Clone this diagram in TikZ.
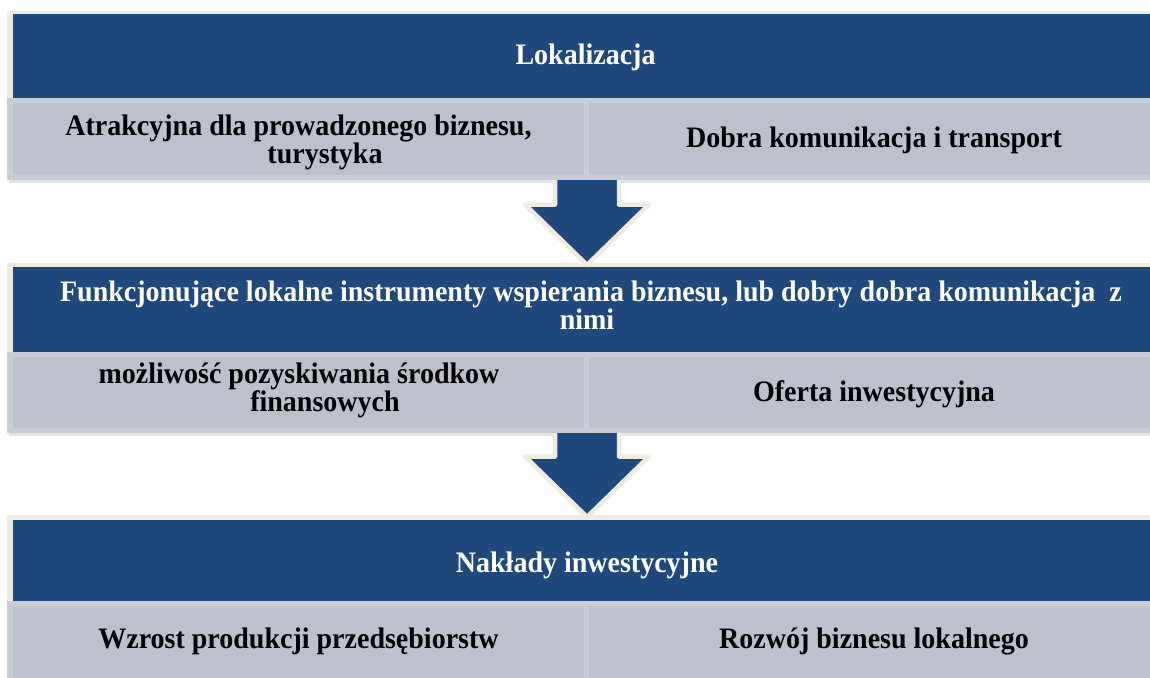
\documentclass[tikz,border=0pt]{standalone}
\usepackage{fontspec}
\setmainfont{Liberation Serif}
\definecolor{dblue}{HTML}{1F497D}
\definecolor{cream}{HTML}{EEECE1}
\definecolor{grayin}{RGB}{188,193,204}
\definecolor{grayout}{RGB}{201,205,214}
\definecolor{shadowc}{RGB}{226,227,231}
\newcommand{\tallt}[1]{\scalebox{1}[1.06]{#1}}
\tikzset{
  creamframe/.style={fill=cream},
  bluefill/.style={fill=dblue},
  grayborder/.style={fill=grayout},
  grayfill/.style={fill=grayin},
  shadowfill/.style={fill=shadowc},
  bigarrow/.style={fill=dblue, draw=cream, line width=4.5pt, line join=round},
  basetext/.style={font=\bfseries\fontsize{28}{26}\selectfont, anchor=base, inner sep=0pt, text height=19pt, text depth=5pt},
  titletext/.style={basetext, text=white},
  celltext/.style={basetext, text=black}
}
\begin{document}
\begin{tikzpicture}[x=1pt,y=-1pt]
\useasboundingbox (0,0) rectangle (1150,677);
\clip (0,0) rectangle (1150,677);
\fill[white] (0,0) rectangle (1150,677);

% ---- block 1
\fill[shadowfill] (9,180) rectangle (1160,183);
\fill[creamframe] (7,11) rectangle (1160,99);
\fill[bluefill] (13,14) rectangle (1160,98);
\fill[grayborder] (7,98) rectangle (1160,180);
\fill[grayfill] (13,103) rectangle (1160,175);
\fill[grayborder] (584,98) rectangle (589,180);

% ---- block 2
\fill[shadowfill] (9,433) rectangle (1160,436);
\fill[creamframe] (7,263) rectangle (1160,353);
\fill[bluefill] (13,267) rectangle (1160,352);
\fill[grayborder] (7,352) rectangle (1160,433);
\fill[grayfill] (13,357) rectangle (1160,428);
\fill[grayborder] (584,352) rectangle (589,433);

% ---- block 3
\fill[creamframe] (7,515) rectangle (1160,602);
\fill[bluefill] (13,520) rectangle (1160,601);
\fill[grayborder] (7,601) rectangle (1160,690);
\fill[grayfill] (13,607) rectangle (1160,690);
\fill[grayborder] (584,601) rectangle (589,690);

% ---- arrows
\filldraw[bigarrow] (555,180) -- (555,204.5) -- (525,204.5) -- (587,265) -- (649,204.5) -- (619,204.5) -- (619,180);
\filldraw[bigarrow] (555,433) -- (555,456.5) -- (525,456.5) -- (587,517) -- (649,456.5) -- (619,456.5) -- (619,433);

% ---- texts
\node[titletext] (t1) at (585.5,64) {\tallt{Lokalizacja}};
\node[celltext] (l1a) at (298.5,135) {\tallt{Atrakcyjna dla prowadzonego biznesu,}};
\node[celltext] (l1b) at (325,163) {\tallt{turystyka}};
\node[celltext] (r1) at (874,147) {\tallt{Dobra komunikacja i transport}};

\node[titletext] (t2a) at (591,301.5) {\tallt{Funkcjonujące lokalne instrumenty wspierania biznesu, lub dobry dobra komunikacja\ \ z}};
\node[titletext] (t2b) at (587,329.5) {\tallt{nimi}};
\node[celltext] (l2a) at (299,383.5) {\tallt{możliwość pozyskiwania środkow}};
\node[celltext] (l2b) at (325,411.5) {\tallt{finansowych}};
\node[celltext] (r2) at (874,401) {\tallt{Oferta inwestycyjna}};

\node[titletext] (t3) at (587,572) {\tallt{Nakłady inwestycyjne}};
\node[celltext] (l3) at (298.5,648) {\tallt{Wzrost produkcji przedsębiorstw}};
\node[celltext] (r3) at (874,648) {\tallt{Rozwój biznesu lokalnego}};
\end{tikzpicture}
\end{document}
